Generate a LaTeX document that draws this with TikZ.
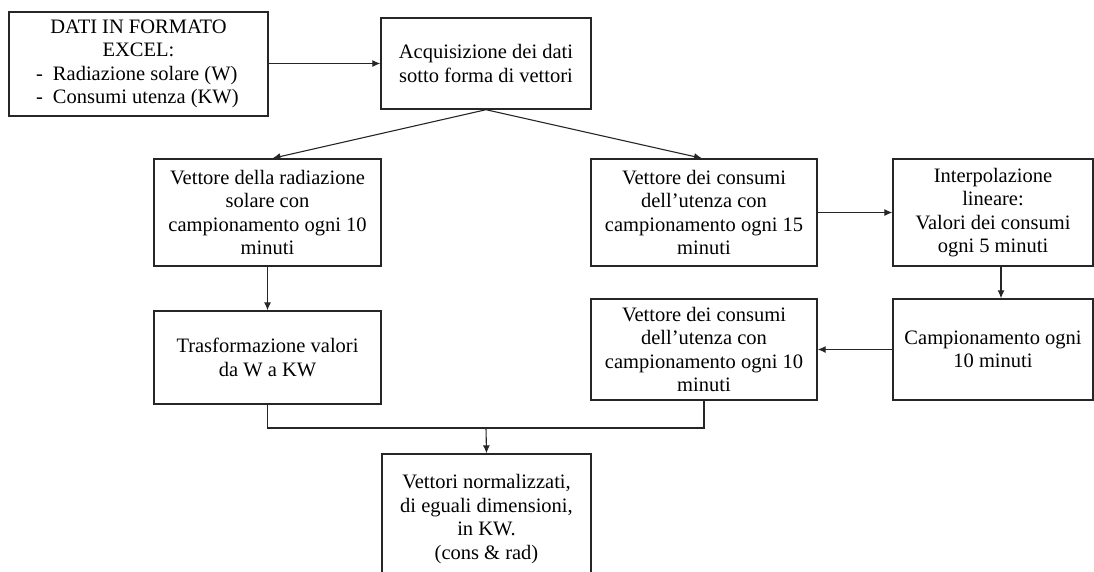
\documentclass[tikz,border=0pt]{standalone}
\usepackage{fontspec}
\setmainfont{Liberation Serif}
\usetikzlibrary{arrows.meta}

% dash item inside the first box
\newcommand{\voce}[1]{\makebox[205pt][l]{\makebox[17pt][l]{-}#1}}

\begin{document}
\begin{tikzpicture}[x=1pt, y=-1pt,
	blocco/.style={draw=black!85, line width=1.4pt, shape=rectangle, align=center, inner sep=2pt,
		font=\fontsize{20.5}{23.5}\selectfont},
	filo/.style={draw=black!85, line width=1.1pt},
	freccia/.style={filo, -{Latex[length=8pt, width=7pt]}}]
	\useasboundingbox (0, 0) rectangle (1094, 571);
	% Blocks:
	\node[blocco, minimum width=259pt, minimum height=104pt](dati) at (138.5, 64){DATI IN FORMATO\\EXCEL:\\\voce{Radiazione solare (W)}\\\voce{Consumi utenza (KW)}};
	\node[blocco, minimum width=210pt, minimum height=91pt](acq) at (486, 63.5){Acquisizione dei dati\\sotto forma di vettori};
	\node[blocco, minimum width=227pt, minimum height=107pt](rad) at (267.5, 212.5){Vettore della radiazione\\solare con\\campionamento ogni 10\\minuti};
	\node[blocco, minimum width=226pt, minimum height=107pt](cons15) at (704, 212.5){Vettore dei consumi\\dell’utenza con\\campionamento ogni 15\\minuti};
	\node[blocco, minimum width=200pt, minimum height=107pt](interp) at (993, 212.5){Interpolazione\\lineare:\\Valori dei consumi\\ogni 5 minuti};
	\node[blocco, minimum width=227pt, minimum height=93pt](trasf) at (267.5, 357.5){Trasformazione valori\\da W a KW};
	\node[blocco, minimum width=226pt, minimum height=101pt](cons10) at (704, 349.5){Vettore dei consumi\\dell’utenza con\\campionamento ogni 10\\minuti};
	\node[blocco, minimum width=200pt, minimum height=101pt](camp) at (993, 349.5){Campionamento ogni\\10 minuti};
	\node[blocco, minimum width=209pt, minimum height=130pt](norm) at (486.5, 519){Vettori normalizzati,\\ di eguali dimensioni,\\in KW.\\(cons \& rad)};
	% Connectors:
	\draw[freccia] (dati.east |- acq) -- (acq.west);
	\draw[freccia] (acq.south) -- ([xshift=5pt]rad.north);
	\draw[freccia] (acq.south) -- ([xshift=-2pt]cons15.north);
	\draw[freccia] (rad) -- (trasf);
	\draw[freccia] (cons15) -- (interp);
	\draw[freccia] ([xshift=8pt]interp.south) -- ([xshift=8pt]camp.north);
	\draw[freccia] (camp) -- (cons10);
	\coordinate (giunto) at (486, 428);
	\draw[filo] (trasf.south) |- (giunto) -| (cons10.south);
	\draw[freccia] (giunto) -- (norm.north);
\end{tikzpicture}
\end{document}
